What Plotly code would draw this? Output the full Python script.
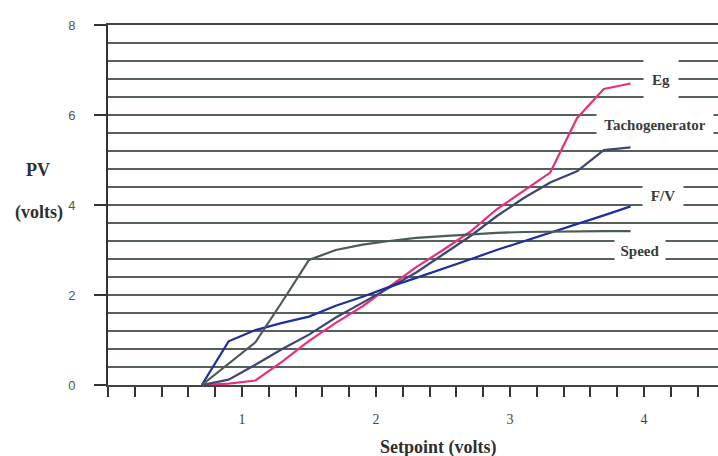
import plotly.graph_objects as go

# Setpoint (volts) at which each PV was measured
setpoint = [0.7, 0.9, 1.1, 1.3, 1.5, 1.7, 1.9, 2.1, 2.3, 2.5, 2.7, 2.9, 3.1, 3.3, 3.5, 3.7, 3.9]

# Process variable readings (volts)
eg = [0.0, 0.03, 0.1, 0.52, 0.98, 1.38, 1.75, 2.18, 2.62, 3.0, 3.4, 3.9, 4.3, 4.72, 5.93, 6.58, 6.7]
tacho = [0.0, 0.12, 0.45, 0.8, 1.12, 1.5, 1.83, 2.17, 2.5, 2.9, 3.3, 3.75, 4.15, 4.5, 4.75, 5.22, 5.28]
fv = [0.0, 0.97, 1.22, 1.38, 1.52, 1.76, 1.96, 2.18, 2.38, 2.58, 2.79, 3.0, 3.19, 3.38, 3.58, 3.77, 3.97]
speed = [0.0, 0.48, 0.95, 1.85, 2.78, 3.0, 3.12, 3.2, 3.27, 3.31, 3.35, 3.38, 3.4, 3.41, 3.41, 3.42, 3.42]

series_names = ["Eg", "Tachogenerator", "F/V", "Speed"]
series_values = [eg, tacho, fv, speed]
series_colors = ["#e8307c", "#3e4772", "#1f2f9e", "#4c5c54"]

# Label placement (x, y in data units) and the cleared box around each label
label_pos = [(4.13, 6.78), (4.08, 5.78), (4.14, 4.2), (3.97, 2.98)]
label_box = [(34, 48), (116, 34), (40, 32), (50, 30)]

y_ticks = [0, 2, 4, 6, 8]
x_ticks = [1, 2, 3, 4]

W, H = 718, 456
ml, mr, mt, mb = 108, 0, 25, 71
pw, ph = W - ml - mr, H - mt - mb


def paper_x(px):
    return (px - ml) / pw


def paper_y(py):
    return (H - mb - py) / ph


fig = go.Figure()
for name, vals, col in zip(series_names, series_values, series_colors):
    fig.add_trace(go.Scatter(x=setpoint, y=vals, mode="lines", name=name,
                             line=dict(color=col, width=2.2), showlegend=False))

serif = "Liberation Serif, Times New Roman, serif"
title_font = dict(family=serif, size=18, color="#2f2f2f")

annotations = []
for name, (lx, ly), (bw, bh) in zip(series_names, label_pos, label_box):
    annotations.append(dict(x=lx, y=ly, xref="x", yref="y", text="<b>" + name + "</b>",
                            showarrow=False, bgcolor="white", width=bw, height=bh,
                            borderpad=0, font=dict(family=serif, size=15, color="#3a3a3a")))

annotations += [
    dict(x=paper_x(38), y=paper_y(170), text="<b>PV</b>"),
    dict(x=paper_x(39), y=paper_y(213), text="<b>(volts)</b>"),
    dict(x=paper_x(438), y=paper_y(447), text="<b>Setpoint (volts)</b>"),
]
for a in annotations[-3:]:
    a.update(xref="paper", yref="paper", xanchor="center", yanchor="middle",
             showarrow=False, font=title_font)

grid_col = "#56605a"
fig.update_layout(
    width=W, height=H,
    margin=dict(l=ml, r=mr, t=mt, b=mb, pad=0),
    paper_bgcolor="white", plot_bgcolor="white",
    annotations=annotations,
    xaxis=dict(range=[0, pw / 134.0], tickvals=x_ticks, ticks="outside", ticklen=10,
               tickwidth=1.5, tickcolor="#333", showgrid=False, zeroline=False,
               showline=True, mirror=True, linecolor="#444", linewidth=1.6,
               tickfont=dict(family=serif, size=14, color="#444"), ticklabelstandoff=10,
               minor=dict(dtick=0.2, tick0=0, ticks="outside", ticklen=10,
                          tickwidth=1.5, tickcolor="#333", showgrid=False)),
    yaxis=dict(range=[0, 8], tickvals=y_ticks, ticks="outside", ticklen=12,
               tickwidth=1.5, tickcolor="#333", showgrid=True, gridcolor=grid_col,
               gridwidth=1.5, zeroline=False, showline=True, linecolor="#333",
               linewidth=2, ticklabelstandoff=16,
               tickfont=dict(family="Liberation Sans, Arial, sans-serif", size=13, color="#555"),
               minor=dict(dtick=0.4, tick0=0, showgrid=True, gridcolor=grid_col,
                          gridwidth=1.5, ticks="")),
)

fig.write_html("out.html")
